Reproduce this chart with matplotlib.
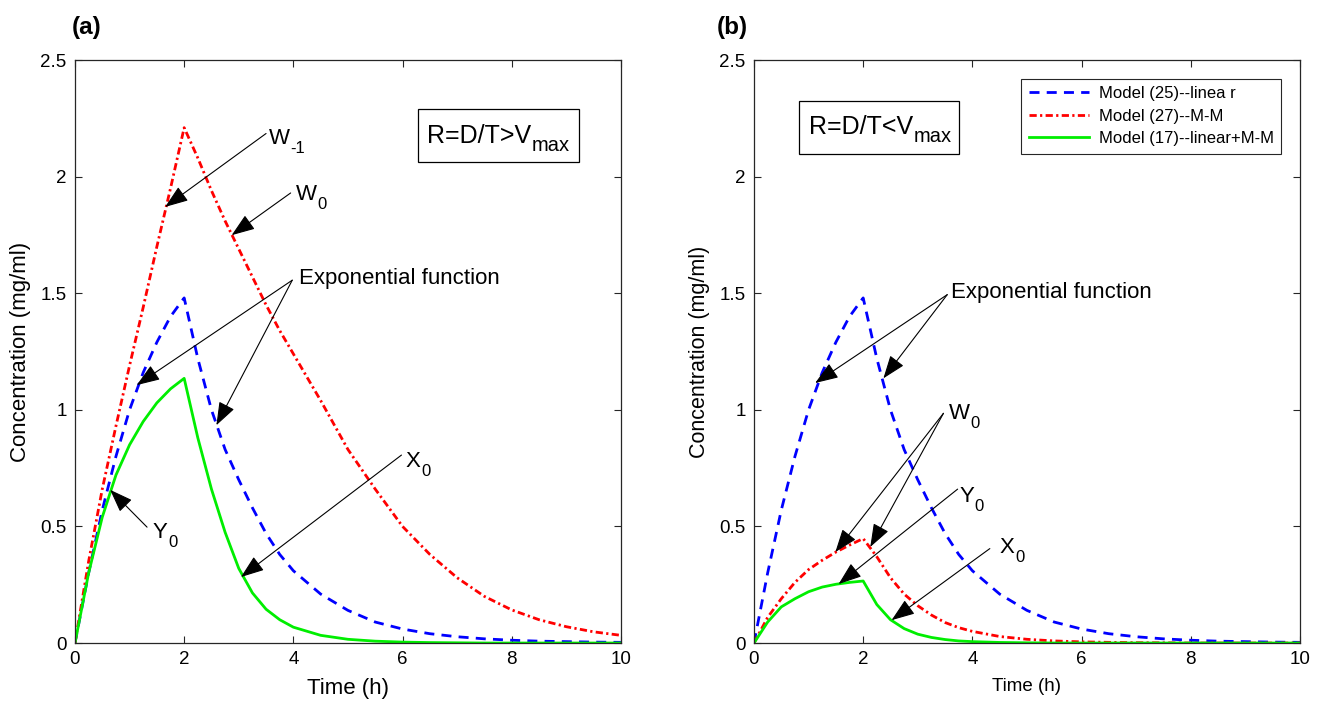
import matplotlib
matplotlib.use("Agg")
import matplotlib.pyplot as plt
from matplotlib.patches import Rectangle

plt.rcParams['font.family'] = ['Liberation Sans', 'DejaVu Sans']

# time grid (h)
t = [0, 0.25, 0.5, 0.75, 1.0, 1.25, 1.5, 1.75, 2.0, 2.25, 2.5, 2.75, 3.0, 3.25,
     3.5, 3.75, 4.0, 4.5, 5.0, 5.5, 6.0, 6.5, 7.0, 7.5, 8.0, 8.5, 9.0, 9.5, 10.0]

# Model (25) - linear, same in both panels
c_linear = [0, 0.30, 0.57, 0.80, 1.00, 1.16, 1.29, 1.40, 1.48, 1.22, 1.00, 0.83,
            0.70, 0.58, 0.47, 0.38, 0.31, 0.21, 0.14, 0.09, 0.06, 0.04, 0.027,
            0.018, 0.012, 0.008, 0.006, 0.004, 0.003]

# panel (a): R > Vmax
c_mm_a = [0, 0.35, 0.66, 0.93, 1.19, 1.44, 1.70, 1.95, 2.21, 2.08, 1.94, 1.81,
          1.69, 1.57, 1.45, 1.34, 1.24, 1.04, 0.83, 0.66, 0.50, 0.38, 0.28,
          0.20, 0.142, 0.10, 0.07, 0.048, 0.033]
c_lmm_a = [0, 0.30, 0.54, 0.72, 0.85, 0.95, 1.03, 1.09, 1.135, 0.88, 0.66, 0.475,
           0.32, 0.215, 0.145, 0.10, 0.068, 0.033, 0.016, 0.008, 0.004, 0.002,
           0.001, 0, 0, 0, 0, 0, 0]

# panel (b): R < Vmax
c_mm_b = [0, 0.11, 0.19, 0.26, 0.315, 0.355, 0.39, 0.42, 0.448, 0.37, 0.28, 0.21,
          0.16, 0.12, 0.088, 0.066, 0.05, 0.028, 0.016, 0.009, 0.005, 0.003,
          0.0015, 0.001, 0, 0, 0, 0, 0]
c_lmm_b = [0, 0.09, 0.155, 0.19, 0.22, 0.24, 0.252, 0.26, 0.266, 0.165, 0.10,
           0.062, 0.038, 0.024, 0.015, 0.009, 0.006, 0.0025, 0.001, 0, 0, 0, 0,
           0, 0, 0, 0, 0, 0]

legend_labels = ['Model (25)--linea r', 'Model (27)--M-M', 'Model (17)--linear+M-M']

axc = '#262626'
arrow = dict(arrowstyle='-|>,head_length=0.9,head_width=0.33', lw=0.8,
             color='k', shrinkA=0, shrinkB=0, mutation_scale=16)


def style_axes(ax, fs_xlab, fs_ylab):
    ax.set_xlim(0, 10)
    ax.set_ylim(0, 2.5)
    ax.set_xticks([0, 2, 4, 6, 8, 10])
    ax.set_yticks([0, 0.5, 1, 1.5, 2, 2.5])
    ax.set_yticklabels(['0', '0.5', '1', '1.5', '2', '2.5'])
    ax.tick_params(direction='in', top=True, right=True, length=5, width=0.8,
                   color=axc, labelsize=13.5, pad=6)
    for s in ax.spines.values():
        s.set_color(axc)
        s.set_linewidth(0.9)
    ax.set_xlabel('Time (h)', fontsize=fs_xlab, labelpad=7)
    ax.set_ylabel('Concentration (mg/ml)', fontsize=fs_ylab, labelpad=7)


def draw_curves(ax, c_mm, c_lmm):
    ax.plot(t, c_linear, color='#0000ff', lw=2, dashes=(3.6, 2.6),
            label=legend_labels[0])
    ax.plot(t, c_mm, color='#ff0000', lw=2, dashes=(2.6, 1.2, 0.8, 1.2),
            label=legend_labels[1])
    ax.plot(t, c_lmm, color='#00ee00', lw=2, label=legend_labels[2])


def sublabel(ax, x, y, main, sub, fs=16, sfs=12, dy=-3.1, z=4):
    # MATLAB-like subscript: smaller text dropped below the baseline
    tx = ax.text(x, y, main, fontsize=fs, va='baseline', zorder=z)
    ax.annotate(sub, xy=(1, 0), xycoords=tx, xytext=(0.5, dy),
                textcoords='offset points', fontsize=sfs, va='baseline', zorder=z)


def rate_box(ax, x0, y0, w, h, tx, ty, main):
    ax.add_patch(Rectangle((x0, y0), w, h, fc='white', ec='k', lw=0.9, zorder=3))
    sublabel(ax, tx, ty, main, 'max', fs=18, sfs=14.5, dy=-2.2)


fig = plt.figure(figsize=(13.2, 7.04), dpi=100)
ax1 = fig.add_axes([0.0568, 0.0866, 0.4136, 0.8281])
ax2 = fig.add_axes([0.5712, 0.0866, 0.4136, 0.8281])

# ---- panel (a)
draw_curves(ax1, c_mm_a, c_lmm_a)
style_axes(ax1, 16, 16)
fs = 16
ax1.annotate('', xy=(1.65, 1.87), xytext=(3.5, 2.185), arrowprops=arrow)
sublabel(ax1, 3.55, 2.14, 'W', '-1')
ax1.annotate('', xy=(2.87, 1.749), xytext=(3.95, 1.93), arrowprops=arrow)
sublabel(ax1, 4.04, 1.90, 'W', '0')
ax1.annotate('', xy=(1.13, 1.106), xytext=(3.98, 1.556), arrowprops=arrow)
ax1.annotate('', xy=(2.59, 0.934), xytext=(3.98, 1.556), arrowprops=arrow)
ax1.text(4.1, 1.565, 'Exponential function', fontsize=fs, va='center')
ax1.annotate('', xy=(3.04, 0.283), xytext=(5.98, 0.806), arrowprops=arrow)
sublabel(ax1, 6.06, 0.756, 'X', '0')
ax1.annotate('', xy=(0.644, 0.657), xytext=(1.32, 0.497), arrowprops=arrow)
sublabel(ax1, 1.42, 0.452, 'Y', '0')
rate_box(ax1, 6.28, 2.064, 2.95, 0.226, 6.45, 2.146, 'R=D/T>V')
fig.text(0.054, 0.952, '(a)', fontsize=17.5, fontweight='bold')

# ---- panel (b)
draw_curves(ax2, c_mm_b, c_lmm_b)
style_axes(ax2, 13.5, 15.5)
ax2.annotate('', xy=(1.12, 1.115), xytext=(3.54, 1.494), arrowprops=arrow)
ax2.annotate('', xy=(2.37, 1.135), xytext=(3.54, 1.494), arrowprops=arrow)
ax2.text(3.61, 1.503, 'Exponential function', fontsize=fs, va='center')
ax2.annotate('', xy=(1.49, 0.39), xytext=(3.47, 0.985), arrowprops=arrow)
ax2.annotate('', xy=(2.13, 0.412), xytext=(3.47, 0.985), arrowprops=arrow)
sublabel(ax2, 3.57, 0.96, 'W', '0')
ax2.annotate('', xy=(1.55, 0.253), xytext=(3.73, 0.66), arrowprops=arrow)
sublabel(ax2, 3.76, 0.606, 'Y', '0')
ax2.annotate('', xy=(2.52, 0.098), xytext=(4.32, 0.405), arrowprops=arrow)
sublabel(ax2, 4.5, 0.386, 'X', '0')
rate_box(ax2, 0.83, 2.095, 2.93, 0.23, 1.01, 2.185, 'R=D/T<V')
leg = ax2.legend(loc='upper right', bbox_to_anchor=(0.966, 0.968), fontsize=12,
                 handlelength=3.6, fancybox=False, framealpha=1, borderaxespad=0,
                 borderpad=0.45, labelspacing=0.45, handletextpad=0.6)
leg.get_frame().set_edgecolor(axc)
leg.get_frame().set_linewidth(0.8)
fig.text(0.543, 0.952, '(b)', fontsize=17.5, fontweight='bold')

fig.savefig('out.png', dpi=100)
